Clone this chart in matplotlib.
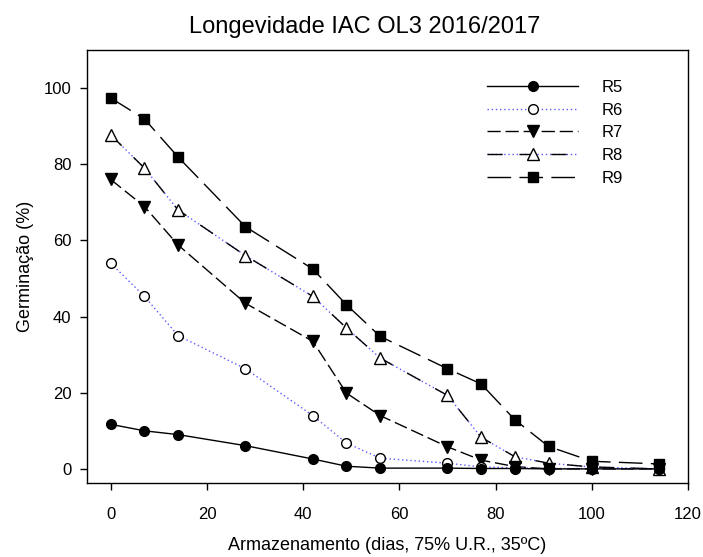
import matplotlib
matplotlib.use("Agg")
import matplotlib.pyplot as plt
from matplotlib.legend_handler import HandlerTuple

plt.rcParams['font.family'] = ['Liberation Sans', 'DejaVu Sans']

# storage days
dias = [0, 7, 14, 28, 42, 49, 56, 70, 77, 84, 91, 100, 114]

r5 = [11.7, 10.0, 9.0, 6.1, 2.6, 0.7, 0.2, 0.2, 0.1, 0.1, 0.0, 0.0, 0.0]
r6 = [54.0, 45.3, 35.0, 26.3, 14.0, 6.8, 2.8, 1.5, 0.5, 0.3, 0.1, 0.1, 0.0]
r7 = [76.0, 68.9, 58.8, 43.5, 33.5, 19.9, 14.0, 5.8, 2.3, 0.6, 0.0, 0.0, 0.0]
r8 = [87.7, 79.0, 68.0, 56.0, 45.3, 37.0, 29.1, 19.3, 8.3, 3.2, 1.5, 0.5, 0.0]
r9 = [97.4, 91.9, 81.9, 63.6, 52.5, 43.1, 34.8, 26.3, 22.3, 12.9, 5.9, 2.0, 1.3]

fig = plt.figure(figsize=(7.03, 5.57), dpi=100)
ax = fig.add_axes([0.1233, 0.1329, 0.8554, 0.7773])

blue = '#5a5aff'

h5, = ax.plot(dias, r5, color='black', lw=1, marker='o', ms=7,
              mfc='black', mec='black', zorder=5)
h6, = ax.plot(dias, r6, color=blue, lw=1, ls=(0, (1, 2)), marker='o', ms=7,
              mfc='white', mec='black', mew=1, zorder=4)
h7, = ax.plot(dias, r7, color='black', lw=1, ls=(0, (9.5, 3.5)), marker='v', ms=8,
              mfc='black', mec='black', zorder=3)
# R8: black dashes with blue dots in between
h8b, = ax.plot(dias, r8, color=blue, lw=1, ls=(0, (1, 2)), zorder=2)
h8, = ax.plot(dias, r8, color='black', lw=1, ls=(0, (11, 12)), marker='^', ms=8,
              mfc='white', mec='black', mew=1, zorder=2)
h9, = ax.plot(dias, r9, color='black', lw=1, ls=(0, (17, 6)), marker='s', ms=7,
              mfc='black', mec='black', zorder=1)

ax.set_xlim(-5, 120)
ax.set_ylim(-3.7, 110)
ax.set_xticks([0, 20, 40, 60, 80, 100, 120])
ax.set_yticks([0, 20, 40, 60, 80, 100])
ax.tick_params(axis='both', direction='out', length=5, width=1, labelsize=12,
               top=False, right=False)
ax.tick_params(axis='x', pad=12)
ax.tick_params(axis='y', pad=6)
for s in ax.spines.values():
    s.set_linewidth(1)

ax.set_xlabel('Armazenamento (dias, 75% U.R., 35ºC)', fontsize=13, labelpad=11)
ax.set_ylabel('Germinação (%)', fontsize=13, labelpad=7)
fig.text(365 / 703, 1 - 27 / 557, 'Longevidade IAC OL3 2016/2017',
         ha='center', va='center', fontsize=17)

ax.legend([h5, h6, h7, (h8b, h8), h9], ['R5', 'R6', 'R7', 'R8', 'R9'],
          handler_map={tuple: HandlerTuple(ndivide=1, pad=0)},
          loc='upper left', bbox_to_anchor=(486.7 / 703, 1 - 80 / 557),
          bbox_transform=fig.transFigure, frameon=False, fontsize=12,
          handlelength=5.5, handletextpad=1.4, labelspacing=0.46,
          borderpad=0, borderaxespad=0, numpoints=1)

fig.savefig('out.png', dpi=100)
